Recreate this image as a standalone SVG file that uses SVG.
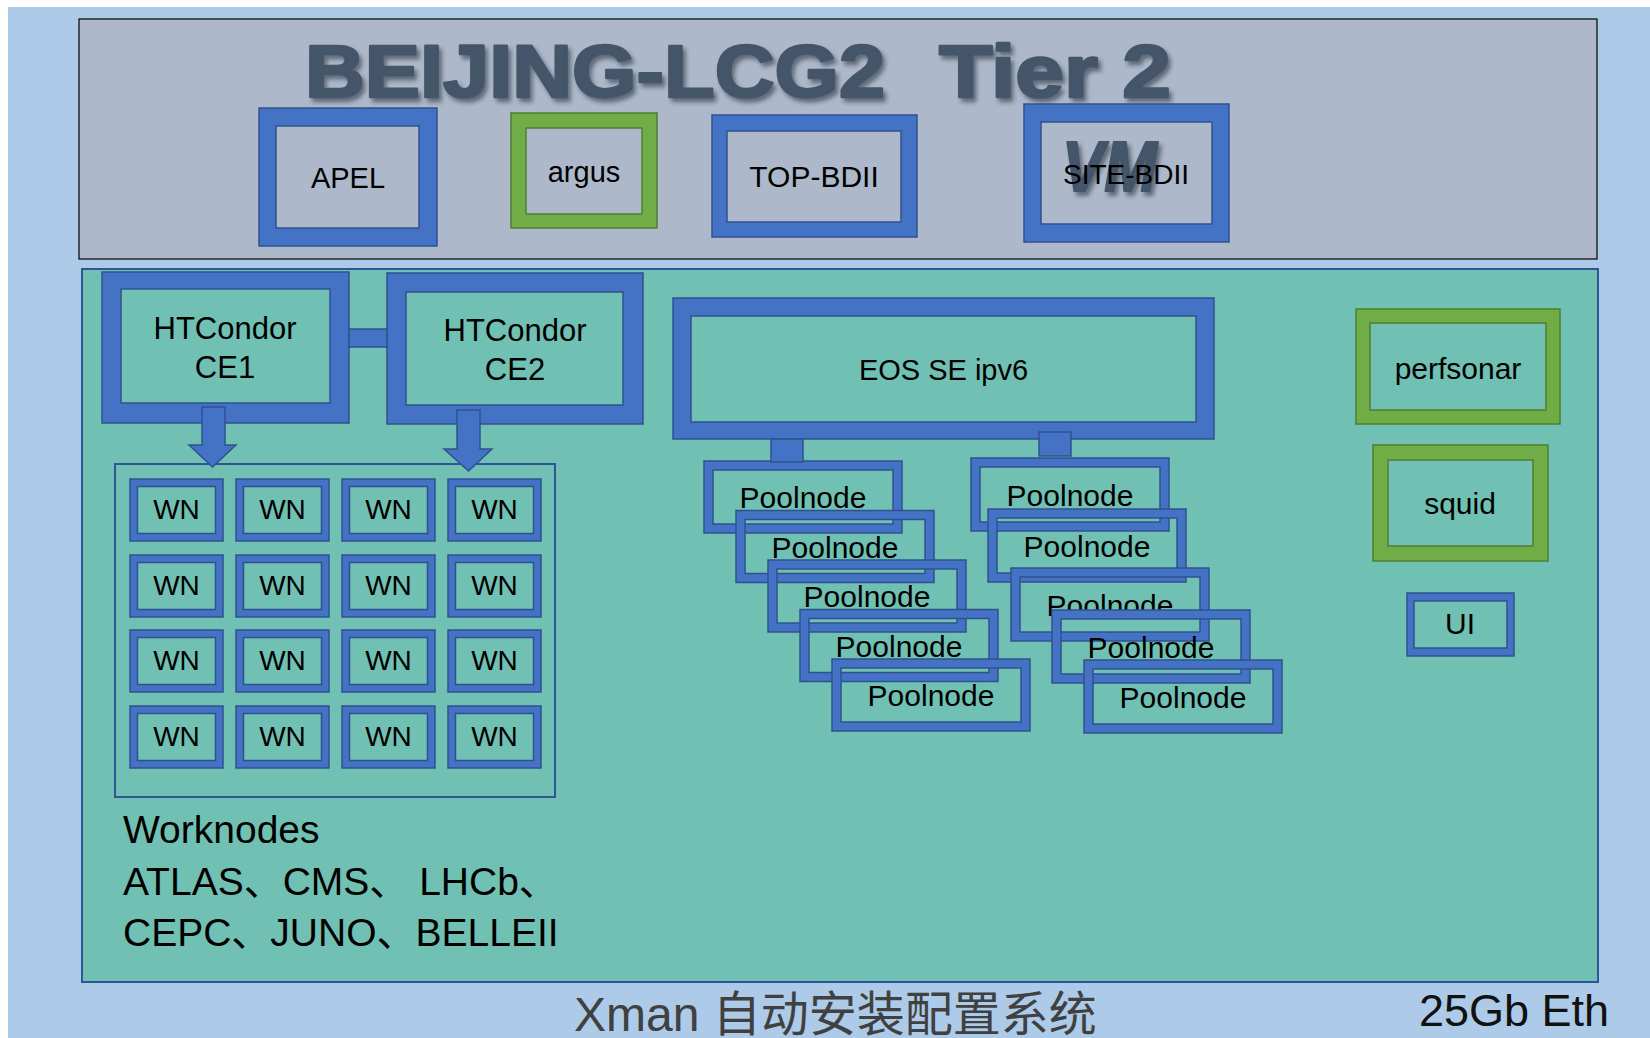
<svg xmlns="http://www.w3.org/2000/svg" width="1650" height="1038" viewBox="0 0 1650 1038">
<defs>
<style>
.b{fill:#4472C4;stroke:#2F528F;stroke-width:1.5;fill-rule:evenodd}
.g{fill:#70AD47;stroke:#507E32;stroke-width:1.5;fill-rule:evenodd}
.t{font-family:"Liberation Sans","Noto Sans CJK SC",sans-serif;fill:#000;text-anchor:middle}
.wn{font-family:"Liberation Sans",sans-serif;font-size:28px;fill:#000;text-anchor:middle}
.pn{font-family:"Liberation Sans",sans-serif;font-size:30px;fill:#000;text-anchor:middle}
.title{font-family:"Liberation Sans",Arial,sans-serif;font-weight:bold;font-size:75px;fill:#44546A;stroke:#44546A;stroke-width:2.5;stroke-linejoin:round}
</style>
<filter id="sh" x="-10%" y="-20%" width="120%" height="150%">
<feDropShadow dx="3" dy="4" stdDeviation="2" flood-color="#1f2a38" flood-opacity="0.55"/>
</filter>
</defs>
<rect x="0" y="0" width="1650" height="1038" fill="#fff"/>
<rect x="8" y="7" width="1642" height="1031" fill="#ADCBE9"/>
<g id="tier2-panel">
<rect x="79" y="19" width="1518" height="240" fill="#ADB9CA" stroke="#000" stroke-width="1.2"/>
<text class="title" x="305" y="97" textLength="580" lengthAdjust="spacingAndGlyphs" filter="url(#sh)">BEIJING-LCG2</text>
<text class="title" x="939" y="97" textLength="232" lengthAdjust="spacingAndGlyphs" filter="url(#sh)">Tier 2</text>
</g>
<rect id="site-panel" x="82" y="269" width="1516" height="713" fill="#70C1B3" stroke="#2F5597" stroke-width="2"/>

<g id="apel"><path class="b" d="M259 108H437V246H259Z M276 126H419V228H276Z"/><text class="t" x="348" y="188" font-size="29">APEL</text></g>
<g id="argus"><path class="g" d="M511 113H657V228H511Z M526 128H642V214H526Z"/><text class="t" x="584" y="182" font-size="29">argus</text></g>
<g id="top-bdii"><path class="b" d="M712 115H917V237H712Z M727 131H901V222H727Z"/><text class="t" x="814" y="187" font-size="30">TOP-BDII</text></g>
<g id="site-bdii"><path class="b" d="M1024 104H1229V242H1024Z M1041 122H1212V224H1041Z"/>
<text x="1062" y="191" font-family="Liberation Sans,sans-serif" font-weight="bold" font-style="italic" font-size="70" fill="#44546A" stroke="#44546A" stroke-width="2" stroke-linejoin="round" textLength="95" lengthAdjust="spacingAndGlyphs" filter="url(#sh)">VM</text>
<text class="t" x="1126" y="184" font-size="28">SITE-BDII</text></g>

<g id="ce1"><path class="b" d="M102 272H349V423H102Z M121 289H330V403H121Z"/><text class="t" x="225" y="339" font-size="31">HTCondor</text><text class="t" x="225" y="378" font-size="31">CE1</text></g>
<g id="ce2"><path class="b" d="M387 273H643V424H387Z M406 292H623V405H406Z"/><text class="t" x="515" y="341" font-size="31">HTCondor</text><text class="t" x="515" y="380" font-size="31">CE2</text></g>

<g id="worknodes">
<rect x="115" y="464" width="440" height="333" fill="none" stroke="#2F5597" stroke-width="2"/>
<g id="wn-r1">
<path class="b" d="M130 479h93v62h-93Z M137.5 486.5h78v47h-78Z"/><text class="wn" x="176.5" y="519">WN</text>
<path class="b" d="M236 479h93v62h-93Z M243.5 486.5h78v47h-78Z"/><text class="wn" x="282.5" y="519">WN</text>
<path class="b" d="M342 479h93v62h-93Z M349.5 486.5h78v47h-78Z"/><text class="wn" x="388.5" y="519">WN</text>
<path class="b" d="M448 479h93v62h-93Z M455.5 486.5h78v47h-78Z"/><text class="wn" x="494.5" y="519">WN</text>
</g>
<g id="wn-r2">
<path class="b" d="M130 555h93v62h-93Z M137.5 562.5h78v47h-78Z"/><text class="wn" x="176.5" y="595">WN</text>
<path class="b" d="M236 555h93v62h-93Z M243.5 562.5h78v47h-78Z"/><text class="wn" x="282.5" y="595">WN</text>
<path class="b" d="M342 555h93v62h-93Z M349.5 562.5h78v47h-78Z"/><text class="wn" x="388.5" y="595">WN</text>
<path class="b" d="M448 555h93v62h-93Z M455.5 562.5h78v47h-78Z"/><text class="wn" x="494.5" y="595">WN</text>
</g>
<g id="wn-r3">
<path class="b" d="M130 630h93v62h-93Z M137.5 637.5h78v47h-78Z"/><text class="wn" x="176.5" y="670">WN</text>
<path class="b" d="M236 630h93v62h-93Z M243.5 637.5h78v47h-78Z"/><text class="wn" x="282.5" y="670">WN</text>
<path class="b" d="M342 630h93v62h-93Z M349.5 637.5h78v47h-78Z"/><text class="wn" x="388.5" y="670">WN</text>
<path class="b" d="M448 630h93v62h-93Z M455.5 637.5h78v47h-78Z"/><text class="wn" x="494.5" y="670">WN</text>
</g>
<g id="wn-r4">
<path class="b" d="M130 706h93v62h-93Z M137.5 713.5h78v47h-78Z"/><text class="wn" x="176.5" y="746">WN</text>
<path class="b" d="M236 706h93v62h-93Z M243.5 713.5h78v47h-78Z"/><text class="wn" x="282.5" y="746">WN</text>
<path class="b" d="M342 706h93v62h-93Z M349.5 713.5h78v47h-78Z"/><text class="wn" x="388.5" y="746">WN</text>
<path class="b" d="M448 706h93v62h-93Z M455.5 713.5h78v47h-78Z"/><text class="wn" x="494.5" y="746">WN</text>
</g>
<text font-family="Liberation Sans,Noto Sans CJK SC,sans-serif" font-size="39" fill="#000"><tspan x="123" y="843">Worknodes</tspan><tspan x="123" y="895">ATLAS、CMS、 LHCb、</tspan><tspan x="123" y="946">CEPC、JUNO、BELLEII</tspan></text>
</g>

<g id="eos"><path class="b" d="M673 298H1214V439H673Z M691 316H1196V422H691Z"/><text class="t" x="943.5" y="380" font-size="29">EOS SE ipv6</text></g>

<g id="poolnodes-left">
<path class="b" d="M704 461h198v72h-198Z M713 470h180v54h-180Z"/><text class="pn" x="803" y="508">Poolnode</text>
<path class="b" d="M736 510.5h198v72h-198Z M745 519.5h180v54h-180Z"/><text class="pn" x="835" y="557.5">Poolnode</text>
<path class="b" d="M768 560h198v72h-198Z M777 569h180v54h-180Z"/><text class="pn" x="867" y="607">Poolnode</text>
<path class="b" d="M800 609.5h198v72h-198Z M809 618.5h180v54h-180Z"/><text class="pn" x="899" y="656.5">Poolnode</text>
<path class="b" d="M832 659h198v72h-198Z M841 668h180v54h-180Z"/><text class="pn" x="931" y="706">Poolnode</text>
</g>
<g id="poolnodes-right">
<path class="b" d="M971 458h198v73h-198Z M980 467h180v55h-180Z"/><text class="pn" x="1070" y="506">Poolnode</text>
<path class="b" d="M988 509h198v73h-198Z M997 518h180v55h-180Z"/><text class="pn" x="1087" y="557">Poolnode</text>
<path class="b" d="M1011 568h198v73h-198Z M1020 577h180v55h-180Z"/><text class="pn" x="1110" y="616">Poolnode</text>
<path class="b" d="M1052 610h198v73h-198Z M1061 619h180v55h-180Z"/><text class="pn" x="1151" y="658">Poolnode</text>
<path class="b" d="M1084 660h198v73h-198Z M1093 669h180v55h-180Z"/><text class="pn" x="1183" y="708">Poolnode</text>
</g>

<g id="perfsonar"><path class="g" d="M1356 309H1560V424H1356Z M1370 323H1546V410H1370Z"/><text class="t" x="1458" y="379" font-size="30">perfsonar</text></g>
<g id="squid"><path class="g" d="M1373 445H1548V561H1373Z M1388 460H1533V546H1388Z"/><text class="t" x="1460" y="514" font-size="30">squid</text></g>
<g id="ui"><path class="b" d="M1407 593H1514V656H1407Z M1414 601H1507V648H1414Z"/><text class="t" x="1460" y="634" font-size="30">UI</text></g>

<g id="connectors">
<rect class="b" x="349" y="329" width="38" height="18"/>
<polygon class="b" points="202,407 225,407 225,445 236,445 212.5,467 189,445 202,445"/>
<polygon class="b" points="457,410 480,410 480,449 492,449 468.5,471 444,449 457,449"/>
<rect class="b" x="771" y="439" width="32" height="23"/>
<rect class="b" x="1039" y="432" width="32" height="24"/>
</g>

<text x="574" y="1031" font-family="Liberation Sans,Noto Sans CJK SC,sans-serif" font-size="48" fill="#404040">Xman 自动安装配置系统</text>
<text x="1419" y="1026" font-family="Liberation Sans,sans-serif" font-size="45" fill="#111">25Gb Eth</text>
</svg>
